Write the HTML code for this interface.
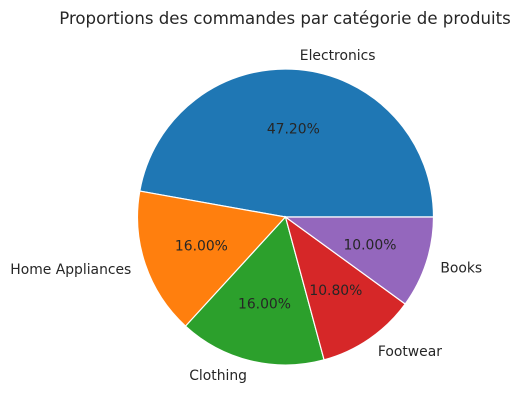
<!DOCTYPE html>
<html><head><meta charset="utf-8"><style>
html,body{margin:0;padding:0;background:#fff;}
svg{display:block;font-family:"DejaVu Sans","Liberation Sans",sans-serif;}
</style></head><body>
<svg id="chart" width="520" height="412" viewBox="0 0 520 412">
<text x="285" y="24" text-anchor="middle" font-size="16.6" fill="#262626">Proportions des commandes par catégorie de produits</text>
<g id="slices"></g>
</svg>
<script>
const categories = ["Electronics","Home Appliances","Clothing","Footwear","Books"];
const values = [47.2,16.0,16.0,10.8,10.0];
const colors = ["#1f77b4","#ff7f0e","#2ca02c","#d62728","#9467bd"];
const cx=285.5, cy=217, r=148;
const g=document.getElementById('slices');
const NS="http://www.w3.org/2000/svg";
const total=values.reduce((a,b)=>a+b,0);
function pt(a,rr){return [cx+rr*Math.cos(a), cy-rr*Math.sin(a)];}
let start=0;
values.forEach((v,i)=>{
  const sweep=v/total*2*Math.PI, end=start+sweep;
  const p1=pt(start,r), p2=pt(end,r);
  const large=sweep>Math.PI?1:0;
  const path=document.createElementNS(NS,'path');
  path.setAttribute('d',`M${cx},${cy} L${p1[0]},${p1[1]} A${r},${r} 0 ${large} 0 ${p2[0]},${p2[1]} Z`);
  path.setAttribute('fill',colors[i]);
  path.setAttribute('stroke','#fff');
  path.setAttribute('stroke-width','1.2');
  
  
  g.appendChild(path);
  const mid=(start+end)/2;
  const lp=pt(mid,r*1.1);
  const lt=document.createElementNS(NS,'text');
  lt.setAttribute('x',lp[0]); lt.setAttribute('y',lp[1]+1);
  lt.setAttribute('text-anchor',Math.cos(mid)>=0?'start':'end');
  lt.setAttribute('dominant-baseline','central');
  lt.setAttribute('font-size','13.9'); lt.setAttribute('fill','#262626');
  lt.textContent=categories[i];
  
  
  g.appendChild(lt);
  const pp=pt(mid,r*0.6);
  const pt2=document.createElementNS(NS,'text');
  pt2.setAttribute('x',pp[0]); pt2.setAttribute('y',pp[1]+1);
  pt2.setAttribute('text-anchor','middle');
  pt2.setAttribute('dominant-baseline','central');
  pt2.setAttribute('font-size','13.9'); pt2.setAttribute('fill','#262626');
  pt2.textContent=(v/total*100).toFixed(2)+'%';
  
  
  g.appendChild(pt2);
  start=end;
});
</script>
</body></html>
